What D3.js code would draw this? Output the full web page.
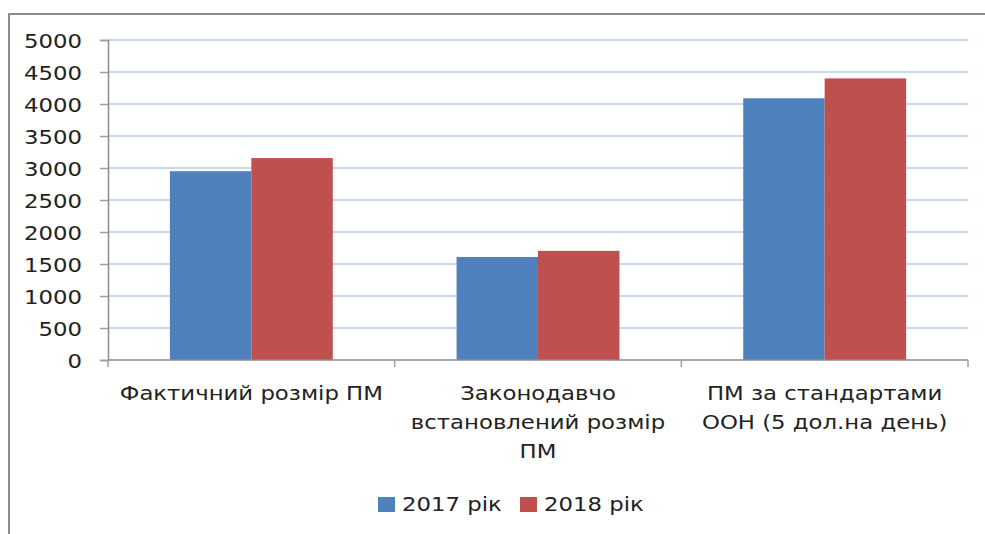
<!DOCTYPE html>
<html>
<head>
<meta charset="utf-8">
<script src="https://cdn.jsdelivr.net/npm/d3@7"></script>
<style>
  body { margin: 0; background: #fff; }
  text { font-family: "DejaVu Sans", sans-serif; fill: #222; }
</style>
</head>
<body>
<div id="vis-holder"></div>
<script>
// Data
const categories = [
  ["Фактичний розмір ПМ"],
  ["Законодавчо", "встановлений розмір", "ПМ"],
  ["ПМ за стандартами", "ООН (5 дол.на день)"]
];
const seriesNames = ["2017 рік", "2018 рік"];
const values2017 = [2950, 1610, 4090];
const values2018 = [3155, 1705, 4400];
const yTicks = [0, 500, 1000, 1500, 2000, 2500, 3000, 3500, 4000, 4500, 5000];

const width = 985;
const height = 534;
const margin = { top: 40, right: 17, bottom: 174, left: 108 };
const colors = ["#4F81BD", "#C0504D"];
const sx = 1.2; // the source text is a bit stretched horizontally

const svg = d3.select("#vis-holder")
  .append("svg")
  .attr("width", width)
  .attr("height", height);

// outer frame (cut off at the right and bottom in the picture)
svg.append("path")
  .attr("d", `M9,${height + 2}V14H${width + 2}`)
  .attr("fill", "none")
  .attr("stroke", "#8c8c8c")
  .attr("stroke-width", 2);

// Scales
const x0 = d3.scaleBand()
  .domain(d3.range(categories.length))
  .range([margin.left, width - margin.right]);

const x1 = d3.scaleBand()
  .domain(d3.range(seriesNames.length))
  .range([0, x0.bandwidth()])
  .paddingOuter(0.76)
  .paddingInner(0);

const y = d3.scaleLinear()
  .domain([0, 5000])
  .range([height - margin.bottom, margin.top]);

// gridlines
svg.append("g")
  .selectAll("line")
  .data(yTicks.slice(1))
  .enter()
  .append("line")
  .attr("x1", margin.left)
  .attr("x2", width - margin.right)
  .attr("y1", (d) => y(d))
  .attr("y2", (d) => y(d))
  .attr("stroke", "#c9d8ef")
  .attr("stroke-width", 2);

// Bars
const series = [values2017, values2018];
series.forEach((vals, s) => {
  svg.append("g")
    .selectAll("rect")
    .data(vals)
    .enter()
    .append("rect")
    .attr("x", (d, i) => x0(i) + x1(s))
    .attr("y", (d) => y(d))
    .attr("width", x1.bandwidth())
    .attr("height", (d) => y(0) - y(d))
    .attr("fill", colors[s]);
});

// Y axis
const yAxis = svg.append("g")
  .attr("transform", `translate(${margin.left},0)`)
  .call(d3.axisLeft(y).tickValues(yTicks).tickSize(8).tickPadding(0).tickFormat(d3.format("d")));
yAxis.select(".domain").attr("stroke", "#8c8c8c").attr("stroke-width", 1.5);
yAxis.selectAll(".tick line").attr("stroke", "#a0a0a0").attr("stroke-width", 1.5);
yAxis.selectAll(".tick text")
  .attr("x", null)
  .attr("dy", null)
  .attr("font-size", 19)
  .attr("text-anchor", "end")
  .attr("transform", `translate(-26,7) scale(${sx},1)`);

// X axis
const xAxis = svg.append("g")
  .attr("transform", `translate(0,${y(0)})`);
xAxis.append("line")
  .attr("x1", margin.left)
  .attr("x2", width - margin.right)
  .attr("stroke", "#8c8c8c")
  .attr("stroke-width", 1.5);
xAxis.selectAll(".sep")
  .data(d3.range(categories.length + 1))
  .enter()
  .append("line")
  .attr("class", "sep")
  .attr("x1", (i) => i < categories.length ? x0(i) : x0.range()[1])
  .attr("x2", (i) => i < categories.length ? x0(i) : x0.range()[1])
  .attr("y1", 0)
  .attr("y2", 7)
  .attr("stroke", "#a0a0a0")
  .attr("stroke-width", 1.5);

// category labels
categories.forEach((lines, i) => {
  const cx = x0(i) + x0.bandwidth() / 2;
  lines.forEach((line, j) => {
    svg.append("text")
      .attr("transform", `translate(${cx},${400 + j * 29}) scale(${sx},1)`)
      .attr("text-anchor", "middle")
      .attr("font-size", 19)
      .text(line);
  });
});

// Legend
const legendX = [378, 520];
seriesNames.forEach((name, s) => {
  svg.append("rect")
    .attr("x", legendX[s])
    .attr("y", 497)
    .attr("width", 17)
    .attr("height", 15)
    .attr("fill", colors[s]);
  svg.append("text")
    .attr("transform", `translate(${legendX[s] + 24},511) scale(${sx},1)`)
    .attr("font-size", 19)
    .text(name);
});
</script>
</body>
</html>
